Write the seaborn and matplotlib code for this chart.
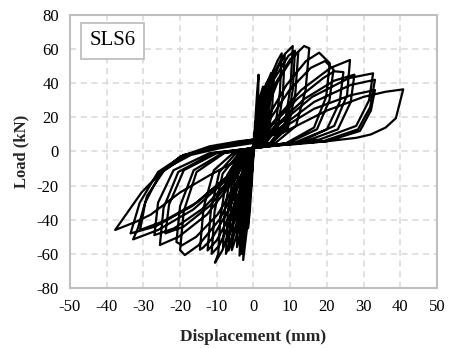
import numpy as np
import pandas as pd
import matplotlib
matplotlib.use("Agg")
import matplotlib.pyplot as plt
import seaborn as sns

# Load-displacement history of specimen SLS6, grouped by loading stage.
# Each stage lists the traced path point by point (displacement in mm, load in kN).
stage1_disp = [0, 0.3, 0.8, 0.6, 0.2, -0.3, -0.8, -0.6, -0.2, 0,
               0.4, 1.0, 1.4, 1.2, 0.8, 0.3, 0, -0.4, -1.0, -1.5, -1.3, -0.8, -0.3, 0,
               0.5, 1.5, 2.6, 2.3, 1.6, 0.7, 0, -0.6, -1.6, -2.8, -2.5, -1.8, -0.8, 0,
               0.6, 1.6, 2.4, 2.1, 1.4, 0.6, 0, -0.7, -1.8, -3.2, -2.9, -2.0, -0.9, 0,
               0.8, 2.0, 3.5, 3.1, 2.3, 1.0, 0, -0.9, -2.2, -3.8, -3.4, -2.5, -1.1, 0,
               0.9, 2.4, 4.0, 3.6, 2.7, 1.2, 0, -1.0, -2.6, -4.5, -4.1, -3.0, -1.3, 0,
               1.0, 2.8, 4.8, 4.4, 3.4, 1.6, 0, -1.2, -3.2, -5.9, -5.4, -4.1, -2.0, 0,
               1.2, 3.4, 5.6, 5.1, 4.0, 2.0, 0, -1.4, -3.8, -6.8, -6.2, -4.8, -2.4, 0]
stage1_load = [0, 8, 20, 8, 2, -10, -25, -10, -1, 1,
               15, 35, 45, 25, 8, 3, 2, -15, -35, -45, -25, -8, 0, 2,
               15, 30, 38, 20, 8, 4, 2, -18, -42, -63.6, -40, -14, -2, 2,
               14, 28, 34, 17, 7, 3, 2, -18, -40, -60, -36, -12, -1, 2,
               15, 30, 40, 22, 9, 4, 2, -18, -40, -61, -38, -13, -2, 2,
               16, 33, 42, 22, 9, 4, 2, -18, -40, -56, -34, -12, -1, 2,
               16, 35, 46, 26, 10, 4, 2, -18, -40, -57.8, -34, -12, -2, 2,
               18, 38, 48, 26, 10, 4, 2, -17, -40, -58, -34, -12, -1, 2]

stage2_disp = [1.5, 4.0, 6.5, 7.7, 7.2, 6.0, 3.0, 0, -1.5, -4.0, -6.3, -7.5, -7.0, -5.5, -2.8, 0,
               1.8, 4.5, 7.3, 8.5, 8.0, 6.6, 3.4, 0, -1.7, -4.6, -7.2, -8.3, -7.8, -6.1, -3.1, 0,
               2.0, 5.0, 8.5, 10.7, 10.1, 8.5, 4.5, 0, -2.0, -5.0, -8.5, -10.5, -9.6, -9.0, -7.2, -3.8, 0,
               2.2, 5.5, 9.5, 11.3, 10.7, 9.0, 4.8, 0, -2.2, -5.5, -9.3, -11.4, -10.6, -8.4, -4.3, 0,
               2.5, 6.0, 10.0, 12.2, 11.4, 9.4, 5.0, 0, -2.5, -6.0, -10.0, -12.5, -11.6, -9.3, -5.0, 0,
               2.8, 6.8, 11.0, 13.8, 15.2, 14.2, 11.6, 6.0, 0, -2.8, -7.0, -11.3, -13.8, -14.6, -13.6, -10.8, -5.6, 0]
stage2_load = [18, 40, 53, 57.5, 35, 15, 5, 2, -16, -38, -53, -60, -36, -13, -2, 2,
               18, 40, 53, 56, 33, 14, 5, 2, -16, -38, -52, -56, -34, -12, -2, 2,
               20, 42, 57, 61.8, 38, 16, 5, 2, -16, -38, -58, -65.2, -60, -38, -14, -2, 2,
               20, 42, 56, 59, 36, 15, 5, 2, -16, -37, -55, -60, -35, -13, -2, 2,
               20, 40, 54, 58, 34, 14, 5, 2, -15, -36, -52, -58, -34, -12, -1.5, 2,
               20, 42, 56, 61.8, 60.5, 36, 15, 5, 2, -14, -35, -51, -56.5, -57.6, -33, -11, -1, 2]

stage3_disp = [3.6, 9.0, 14.3, 17.9, 20.8, 19.8, 16.5, 9.0, 0,
               -3.7, -9.3, -15.0, -18.7, -20.0, -19.0, -15.5, -8.0, 0,
               3.9, 9.8, 15.6, 19.5, 21.8, 20.7, 17.3, 9.5, 0,
               -3.9, -9.8, -15.6, -19.5, -21.0, -20.0, -16.3, -8.5, 0,
               4.9, 12.0, 19.0, 22.0, 24.5, 23.5, 20.0, 11.0, 0,
               -4.8, -12.0, -19.0, -24.0, -23.0, -19.0, -10.0, 0,
               5.3, 13.0, 21.0, 26.3, 25.5, 22.0, 12.0, 0,
               -5.0, -12.7, -20.4, -25.5, -24.5, -20.5, -11.0, 0,
               5.5, 14.0, 22.0, 27.5, 26.5, 23.0, 13.0, 0,
               -5.4, -13.5, -21.6, -27.0, -26.0, -21.8, -12.0, 0]
stage3_load = [19, 39, 53, 57.9, 51.7, 32, 14, 5, 2,
               -17, -40, -55, -60.7, -57.8, -35, -12, -1, 2,
               17, 36, 49, 53, 48, 30, 13, 5, 2,
               -16, -37, -50, -55, -53, -32, -11, -1, 2,
               15, 31, 43, 47, 46.5, 29, 13, 5, 2,
               -14, -32, -44, -48, -31, -11, -1, 2,
               17, 36, 49, 53.6, 33, 15, 5, 2,
               -16, -37, -50, -54.8, -33, -12, -1, 2,
               14, 31, 41.5, 45, 29, 13, 5, 2,
               -14, -33, -45, -49, -30, -11, -1, 2]

stage4_disp = [6.5, 16, 26, 32.6, 31.5, 28, 18, 0,
               -6.5, -16.4, -26, -32.8, -31.5, -29, -24, -17, -9, 0,
               6.6, 16.5, 26.5, 33.1, 31.8, 28.5, 19, 0,
               -6.7, -16.7, -26.8, -33.5, -31, -26, -19, -10, 0,
               6.6, 16.5, 26.5, 33.1, 32, 29, 20, 0,
               -6.2, -15.5, -24.7, -30.9, -29.5, -25.5, -18, -10, 0,
               8, 20, 30, 36, 40.8, 38.8, 36, 32, 28, 20, 10, 0,
               -6, -12, -20, -28, -31.8, -37.7, -30.5, -26, -20, -12, -4, 0]
stage4_load = [15, 32, 43, 45.8, 30, 15, 7, 2,
               -15, -34, -46, -51.5, -45, -26, -10, -2, 2, 5,
               13, 29, 39, 42, 26, 13, 6, 3,
               -14, -32, -44, -48, -30, -12, -2, 2, 6,
               12, 25, 33, 36, 24, 12, 6, 3,
               -13, -30, -41, -46, -30, -13, -2, 3, 7,
               11, 24, 32, 35, 36.4, 19.5, 14, 10, 8, 6, 4, 3,
               -7, -14, -24, -37, -41, -46, -24, -14, -3, 3, 6, 7]

displacement = stage1_disp + stage2_disp + stage3_disp + stage4_disp
load = stage1_load + stage2_load + stage3_load + stage4_load

df = pd.DataFrame({"Displacement (mm)": displacement, "Load (kN)": load})

sns.set_theme(style="white")
plt.rcParams["font.family"] = ["Liberation Serif", "DejaVu Serif"]
plt.rcParams["axes.unicode_minus"] = False

fig = plt.figure(figsize=(4.59, 3.48), dpi=100)
ax = fig.add_axes([0.1525, 0.1724, 0.7995, 0.7846])

sns.lineplot(data=df, x="Displacement (mm)", y="Load (kN)", sort=False,
             estimator=None, color="black", linewidth=1.6, ax=ax)

ax.set_xlim(-50, 50)
ax.set_ylim(-80, 80)
ax.set_xticks(np.arange(-50, 51, 10))
ax.set_yticks(np.arange(-80, 81, 20))
ax.grid(True, color="#d9d9d9", linestyle=(0, (4, 3)), linewidth=1.1)
ax.set_axisbelow(True)
for s in ax.spines.values():
    s.set_color("#bfbfbf")
    s.set_linewidth(1.5)
ax.tick_params(axis="both", length=0, pad=8, labelsize=12, colors="black")

ax.set_xlabel("Displacement (mm)", fontsize=12.5, fontweight="bold", labelpad=10)
ax.set_ylabel("Load (kN)", fontsize=12, fontweight="bold", labelpad=5)

ax.text(0.115, 0.905, "SLS6", transform=ax.transAxes, ha="center", va="center",
        fontsize=15, color="black",
        bbox=dict(boxstyle="square,pad=0.4", facecolor="white", edgecolor="#bfbfbf",
                  linewidth=1.3))

fig.savefig("out.png", dpi=100)
